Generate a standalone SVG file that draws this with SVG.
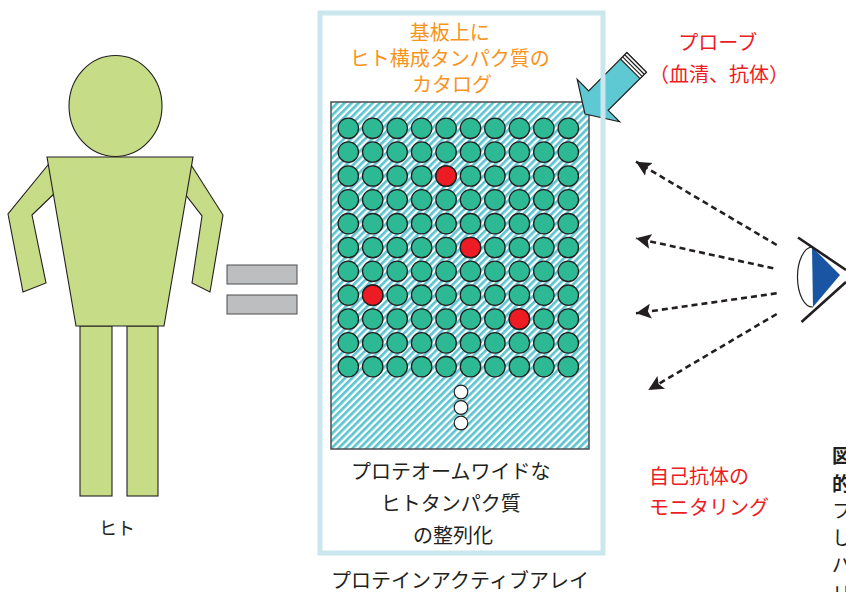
<svg xmlns="http://www.w3.org/2000/svg" xmlns:xlink="http://www.w3.org/1999/xlink" width="846" height="592" viewBox="0 0 846 592">
  <defs>
    <style>
      .jp { font-family: "Noto Sans CJK JP", "Noto Sans", sans-serif; }
      .dark { fill: #231f20; }
      .orange { fill: #f7941d; }
      .red { fill: #ed1c24; }
      .body { fill: #c6dc87; stroke: #231f20; stroke-width: 1.1; }
      .bar { fill: #bcbec0; stroke: #4d4d4f; stroke-width: 1; }
      .spot { fill: #2eb995; stroke: #231f20; stroke-width: 1.3; }
      .hit { fill: #ed1c24; stroke: #231f20; stroke-width: 1.3; }
      .blank { fill: #ffffff; stroke: #231f20; stroke-width: 1.2; }
      .ray { fill: none; stroke: #231f20; stroke-width: 2.6; stroke-dasharray: 6 4; marker-end: url(#head); }
    </style>
    <pattern id="hatch" width="5" height="5" patternUnits="userSpaceOnUse" patternTransform="rotate(45)">
      <rect width="5" height="5" fill="#ffffff"/>
      <rect width="2.7" height="5" fill="#5cc5d0"/>
    </pattern>
    <marker id="head" markerUnits="userSpaceOnUse" markerWidth="17" markerHeight="17" viewBox="0 -8 17 16" refX="15" refY="0" orient="auto">
      <path d="M0,-7.5 L15,0 L0,7.5 L3,0 Z" fill="#231f20"/>
    </marker>
    <!-- one row of ten protein spots -->
    <g id="spot-row">
      <circle class="spot" cx="348.3" cy="0" r="10.2"/>
      <circle class="spot" cx="372.7" cy="0" r="10.2"/>
      <circle class="spot" cx="397.2" cy="0" r="10.2"/>
      <circle class="spot" cx="421.6" cy="0" r="10.2"/>
      <circle class="spot" cx="446.1" cy="0" r="10.2"/>
      <circle class="spot" cx="470.5" cy="0" r="10.2"/>
      <circle class="spot" cx="494.9" cy="0" r="10.2"/>
      <circle class="spot" cx="519.4" cy="0" r="10.2"/>
      <circle class="spot" cx="543.8" cy="0" r="10.2"/>
      <circle class="spot" cx="568.3" cy="0" r="10.2"/>
    </g>
  </defs>

  <rect width="846" height="592" fill="#ffffff"/>

  <!-- human figure -->
  <g id="person">
    <polygon class="body" points="52,160 8,214 23,292 46,283 32,215 58,190"/>
    <polygon class="body" points="188,160 223,215 210,292 192,283 202,216 182,190"/>
    <rect class="body" x="80" y="326" width="32" height="170"/>
    <rect class="body" x="127" y="326" width="31" height="170"/>
    <ellipse class="body" cx="115.5" cy="106" rx="46.5" ry="50.5"/>
    <polygon class="body" points="47,157 193,157 164,326 76,326"/>
    <text class="jp dark" x="117" y="535" font-size="18" text-anchor="middle">ヒト</text>
  </g>

  <!-- equals sign -->
  <g id="equals">
    <rect class="bar" x="227" y="265" width="70" height="19"/>
    <rect class="bar" x="227" y="295" width="70" height="19"/>
  </g>

  <!-- protein array slide -->
  <g id="array">
    <rect x="331" y="102" width="258" height="347" fill="url(#hatch)" stroke="#4d4d4f" stroke-width="1.5"/>
    <use xlink:href="#spot-row" href="#spot-row" transform="translate(0,128.3)"/>
    <use xlink:href="#spot-row" href="#spot-row" transform="translate(0,152.1)"/>
    <use xlink:href="#spot-row" href="#spot-row" transform="translate(0,176.0)"/>
    <use xlink:href="#spot-row" href="#spot-row" transform="translate(0,199.8)"/>
    <use xlink:href="#spot-row" href="#spot-row" transform="translate(0,223.7)"/>
    <use xlink:href="#spot-row" href="#spot-row" transform="translate(0,247.5)"/>
    <use xlink:href="#spot-row" href="#spot-row" transform="translate(0,271.3)"/>
    <use xlink:href="#spot-row" href="#spot-row" transform="translate(0,295.2)"/>
    <use xlink:href="#spot-row" href="#spot-row" transform="translate(0,319.0)"/>
    <use xlink:href="#spot-row" href="#spot-row" transform="translate(0,342.9)"/>
    <use xlink:href="#spot-row" href="#spot-row" transform="translate(0,366.7)"/>
    <!-- reactive spots -->
    <circle class="hit" cx="446.1" cy="176.0" r="10.2"/>
    <circle class="hit" cx="470.5" cy="247.5" r="10.2"/>
    <circle class="hit" cx="372.7" cy="295.2" r="10.2"/>
    <circle class="hit" cx="519.4" cy="319.0" r="10.2"/>
    <!-- continuation dots -->
    <circle class="blank" cx="461" cy="392" r="6.8"/>
    <circle class="blank" cx="461" cy="407.5" r="6.8"/>
    <circle class="blank" cx="461" cy="423" r="6.8"/>
  </g>

  <!-- probe arrow -->
  <g id="probe" transform="translate(585,114) rotate(135)">
    <polygon points="0,0 -19,-30 -19,-13.8 -73,-13.8 -73,13.8 -19,13.8 -19,30" fill="#5ec8d3" stroke="#231f20" stroke-width="1.2" stroke-linejoin="miter"/>
    <rect x="-73" y="-13.8" width="9" height="27.6" fill="#ffffff" stroke="#231f20" stroke-width="1.2"/>
    <line x1="-67" y1="-13.8" x2="-67" y2="13.8" stroke="#231f20" stroke-width="1.2"/>
    <line x1="-70" y1="-13.8" x2="-70" y2="13.8" stroke="#231f20" stroke-width="1.2"/>
  </g>

  <!-- frame of the protein active array -->
  <g id="frame">
    <rect x="320" y="13" width="283" height="540" fill="none" stroke="#c9e7ec" stroke-width="5"/>
    <text class="jp orange" font-size="20" text-anchor="middle">
      <tspan x="452" y="40">基板上に</tspan>
      <tspan x="452" y="66">ヒト構成タンパク質の</tspan>
      <tspan x="452" y="92">カタログ</tspan>
    </text>
    <text class="jp dark" font-size="20" text-anchor="middle">
      <tspan x="453" y="479">プロテオームワイドな</tspan>
      <tspan x="453" y="511">ヒトタンパク質</tspan>
      <tspan x="453" y="543">の整列化</tspan>
    </text>
  </g>
  <text id="caption" class="jp dark" x="460" y="588" font-size="20" text-anchor="middle">プロテインアクティブアレイ</text>

  <!-- probe label -->
  <g id="probe-label">
    <text class="jp red" font-size="20" text-anchor="middle">
      <tspan x="720" y="50">プローブ</tspan>
      <tspan x="719" y="82">（血清、抗体）</tspan>
    </text>
  </g>

  <!-- eye -->
  <g id="eye">
    <path d="M812,247 A15 30 0 0 0 813,307" fill="#ffffff" stroke="#231f20" stroke-width="1.2"/>
    <polygon points="812,247 840,275 813,307" fill="#1a55a4"/>
    <line x1="798" y1="237.5" x2="846" y2="270" stroke="#231f20" stroke-width="2.6"/>
    <line x1="801.5" y1="322" x2="846" y2="282" stroke="#231f20" stroke-width="2.6"/>
  </g>

  <!-- dashed sight lines -->
  <g id="connectors">
    <path class="ray" d="M776.7,245 L636,161.7"/>
    <path class="ray" d="M773.3,268.3 L636,238.3"/>
    <path class="ray" d="M776.7,293.3 L636,313.3"/>
    <path class="ray" d="M776.7,314 L648.3,390"/>
  </g>

  <!-- autoantibody label -->
  <g id="monitor-label">
    <text class="jp red" font-size="20">
      <tspan x="649" y="484">自己抗体の</tspan>
      <tspan x="649" y="515">モニタリング</tspan>
    </text>
  </g>

  <!-- neighbouring text column at the right edge -->
  <g id="side-column" class="jp dark" font-size="19.5">
    <text x="832" y="463" font-weight="bold">図</text>
    <text x="832" y="491" font-weight="bold">的</text>
    <text x="832" y="518">フ</text>
    <text x="832" y="545">し</text>
    <text x="832" y="572">パ</text>
    <text x="832" y="601">リ</text>
  </g>
</svg>
